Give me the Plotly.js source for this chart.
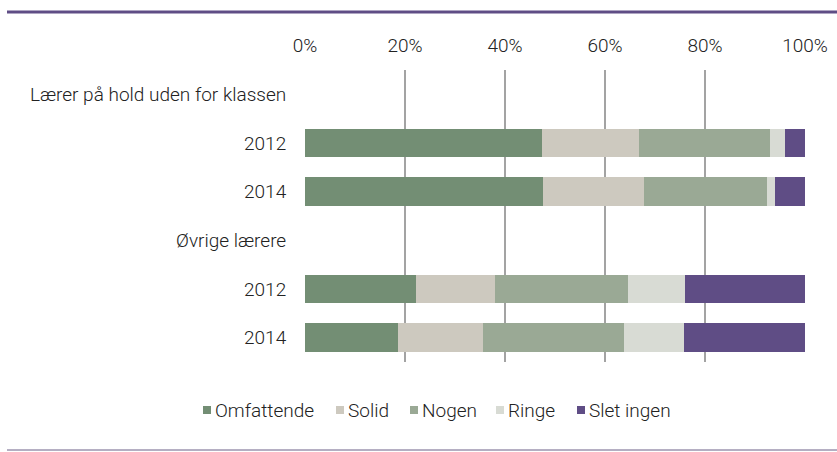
<!DOCTYPE html>
<html><head><meta charset="utf-8">
<script src="https://cdn.plot.ly/plotly-3.0.1.min.js"></script>
<style>html,body{margin:0;padding:0;background:#fff}#c{width:837px;height:452px}</style>
</head><body><div id="c"></div>
<script>
const rowLabels = ['Lærer på hold uden for klassen','2012','2014','Øvrige lærere','2012','2014'];
const seriesNames = ['Omfattende','Solid','Nogen','Ringe','Slet ingen'];
const omfattende = [null, 47.4, 47.6, null, 22.1, 18.6];
const solid      = [null, 19.4, 20.1, null, 15.8, 16.9];
const nogen      = [null, 26.1, 24.7, null, 26.7, 28.2];
const ringe      = [null, 3.1, 1.5, null, 11.4, 12.1];
const sletIngen  = [null, 4.0, 6.1, null, 24.0, 24.2];
const xTicks = [0, 20, 40, 60, 80, 100];

const colors = ['#738e74','#cdc9bf','#9aa995','#d8dbd4','#5f4d85'];
const values = [omfattende, solid, nogen, ringe, sletIngen];
const pos = rowLabels.map((_, i) => i);

const traces = values.map((v, k) => ({
  type: 'bar', orientation: 'h', name: seriesNames[k],
  x: v, y: pos, width: 0.59, showlegend: false,
  marker: {color: colors[k], line: {width: 0}},
  hoverinfo: 'skip'
}));

const fam = 'Roboto, "DejaVu Sans", sans-serif';
const font = {family: fam, size: 19, color: '#222', weight: 300};

// plot area in pixels: left 305, right 805, top 70, bottom 362
const L = 305, W = 500, T = 70, H = 292;
const px = x => (x - L) / W;
const py = y => (T + H - y) / H;

// custom legend (symbol x, text x in pixels)
const legSym = [203, 336, 410, 496, 577];
const legY = 410;
const shapes = [
  {type: 'line', xref: 'paper', yref: 'paper', x0: px(7), x1: px(837), y0: py(12), y1: py(12),
   line: {color: '#5f4d85', width: 3}},
  {type: 'line', xref: 'paper', yref: 'paper', x0: px(7), x1: px(837), y0: py(450), y1: py(450),
   line: {color: '#6b5f86', width: 1}}
];
const annotations = [];
seriesNames.forEach((n, k) => {
  shapes.push({type: 'rect', xref: 'paper', yref: 'paper',
    x0: px(legSym[k]), x1: px(legSym[k] + 8), y0: py(legY + 4), y1: py(legY - 4),
    fillcolor: colors[k], line: {width: 0}});
  annotations.push({xref: 'paper', yref: 'paper', x: px(legSym[k] + 10), y: py(legY),
    xanchor: 'left', yanchor: 'middle', text: n, showarrow: false,
    font: {family: fam, size: 19, color: '#222', weight: 300}});
});

const layout = {
  width: 837, height: 452,
  margin: {l: L, r: 837 - L - W, t: T, b: 452 - T - H, autoexpand: false},
  barmode: 'stack',
  paper_bgcolor: '#fff', plot_bgcolor: '#fff',
  font: font,
  showlegend: false,
  xaxis: {side: 'top', range: [0, 100], tickvals: xTicks, ticktext: xTicks.map(t => t + '%'),
          showgrid: true, gridcolor: '#a3a3a3', gridwidth: 1.5, zeroline: false,
          showline: false, ticks: 'outside', ticklen: 9, tickcolor: 'rgba(0,0,0,0)',
          fixedrange: true},
  yaxis: {range: [5.5, -0.5], tickvals: pos, ticktext: rowLabels, showgrid: false,
          zeroline: false, showline: false, ticks: 'outside', ticklen: 14,
          tickcolor: 'rgba(0,0,0,0)', fixedrange: true},
  shapes: shapes,
  annotations: annotations
};
Plotly.newPlot('c', traces, layout, {displayModeBar: false, staticPlot: true});
</script></body></html>
